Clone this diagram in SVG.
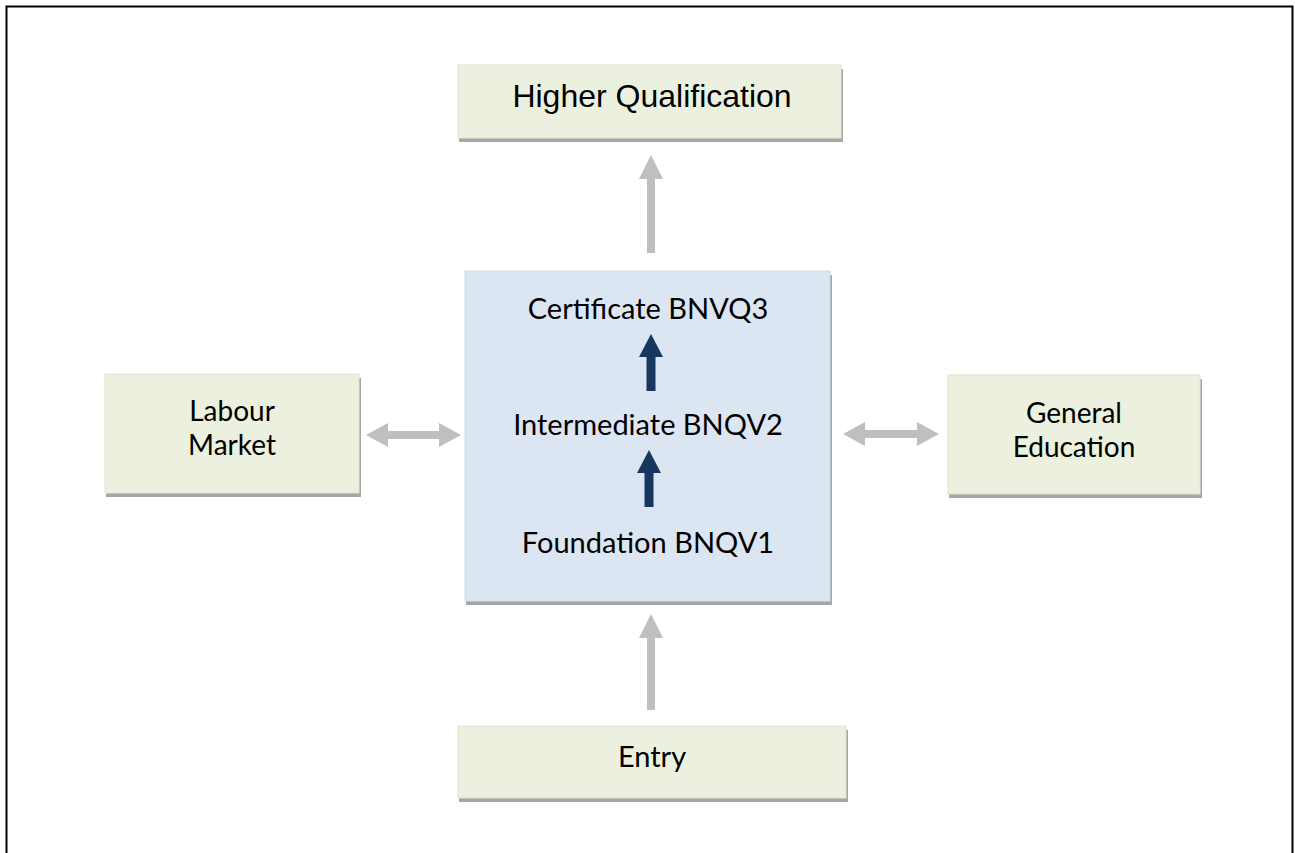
<svg xmlns="http://www.w3.org/2000/svg" width="1295" height="853" viewBox="0 0 1295 853">
<style>
.shadow{fill:#A6A6A6}
.green{fill:#EBF1DE;stroke:#E0E6D2;stroke-width:1}
.blue{fill:#DCE6F2;stroke:#D2DCE8;stroke-width:1}
.t{font-family:Lato,"Open Sans",sans-serif;font-size:29px;fill:#000;text-anchor:middle}
.t2{font-family:Lato,"Open Sans",sans-serif;font-size:28px;fill:#000;text-anchor:middle}
.ta{font-family:"Liberation Sans",Arial,sans-serif;font-size:32px;fill:#000;text-anchor:middle}
.g{fill:#BFBFBF}
.d{fill:#17375E}
</style>
<rect x="6.5" y="6.5" width="1286" height="860" fill="#fff" stroke="#000" stroke-width="2"/>
<g id="higher-qualification">
<rect class="shadow" x="459" y="69" width="384" height="73"/>
<rect class="green" x="458" y="65" width="383" height="73"/>
<text class="ta" x="652" y="107">Higher Qualification</text>
</g>
<g id="central">
<rect class="shadow" x="466" y="275" width="366" height="330"/>
<rect class="blue" x="465" y="271" width="365" height="330"/>
<text class="t" x="648" y="319">Certificate BNVQ3</text>
<text class="t" x="648" y="435">Intermediate BNQV2</text>
<text class="t" x="648" y="553">Foundation BNQV1</text>
</g>
<g id="labour-market">
<rect class="shadow" x="106" y="378" width="255" height="119"/>
<rect class="green" x="105" y="374" width="254" height="119"/>
<text class="t2" x="232" y="421">Labour</text>
<text class="t2" x="232" y="455">Market</text>
</g>
<g id="general-education">
<rect class="shadow" x="949" y="379" width="253" height="119"/>
<rect class="green" x="948" y="375" width="252" height="119"/>
<text class="t2" x="1074" y="423">General</text>
<text class="t2" x="1074" y="457">Education</text>
</g>
<g id="entry">
<rect class="shadow" x="459" y="730" width="389" height="72"/>
<rect class="green" x="458" y="726" width="388" height="72"/>
<text class="t" x="652" y="767">Entry</text>
</g>
<g id="connectors">
<path class="d" d="M651,334 L663,357 L655.5,357 L655.5,391 L646.5,391 L646.5,357 L639,357 Z"/>
<path class="d" d="M649,450 L661,473 L653.5,473 L653.5,507 L644.5,507 L644.5,473 L637,473 Z"/>
<path class="g" d="M651,614 L663,638 L655,638 L655,710 L647,710 L647,638 L639,638 Z"/>
<path class="g" d="M651,155 L663,179 L655,179 L655,253 L647,253 L647,179 L639,179 Z"/>
<path class="g" d="M366,435 L388,423 L388,431 L439,431 L439,423 L461,435 L439,447 L439,439 L388,439 L388,447 Z"/>
<path class="g" d="M843,434 L865,422 L865,430 L917,430 L917,422 L939,434 L917,446 L917,438 L865,438 L865,446 Z"/>
</g>
</svg>
